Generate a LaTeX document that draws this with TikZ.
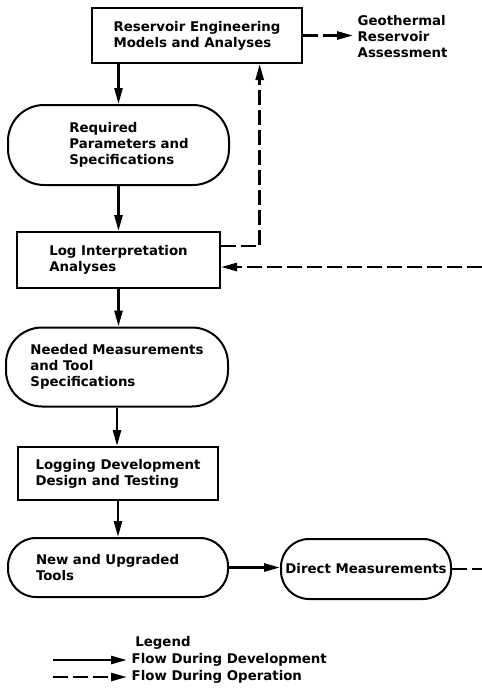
\documentclass[tikz,border=0pt]{standalone}
\usepackage{fontspec}
\setmainfont{DejaVu Sans}
\usetikzlibrary{arrows.meta,positioning}

\begin{document}
\begin{tikzpicture}[
  x=0.75pt, y=-0.75pt,
  font=\fontsize{10}{12}\selectfont\bfseries,
  >={Triangle[length=12pt,width=6pt]},
  box/.style={draw=black, line width=1.5pt, align=left, inner sep=0pt},
  pill/.style={box, rounded corners=21pt},
  arr/.style={->, line width=1.9pt},
  darr/.style={arr, dash pattern=on 11pt off 4pt},
]
\useasboundingbox (0,0) rectangle (482,693);

\node[box, minimum width=157.5pt, minimum height=41.25pt] (reseng) at (197,35.5)
  {Reservoir Engineering\\Models and Analyses};
\node[align=left, anchor=west] (assess) at (353,37)
  {Geothermal\\Reservoir\\Assessment};
\node[pill, rounded corners=27pt, text width=165.75pt, minimum height=60pt] (reqpar) at (118.5,145)
  {\leftskip=46pt Required\\Parameters and\\Specifications\par};
\node[box, minimum width=152.25pt, minimum height=42pt] (loginterp) at (118.5,260)
  {Log Interpretation\\Analyses};
\node[pill, rounded corners=27pt, minimum width=166.5pt, minimum height=59.25pt] (needmeas) at (117,367)
  {Needed Measurements\\and Tool\\Specifications};
\node[box, minimum width=150pt, minimum height=39.75pt] (logdev) at (118,473.5)
  {Logging Development\\Design and Testing};
\node[pill, text width=165pt, minimum height=44.25pt] (newtools) at (118,567.5)
  {\leftskip=21pt New and Upgraded\\Tools\par};
\node[pill, minimum width=127.5pt, minimum height=45pt] (direct) at (366,569)
  {Direct Measurements};

\draw[arr] (reseng.south -| reqpar.north) -- (reqpar.north);
\draw[arr] (reqpar.south) -- (reqpar.south |- loginterp.north);
\draw[arr] (loginterp.south) -- (loginterp.south |- needmeas.north);
\draw[arr] (needmeas.south) -- (needmeas.south |- logdev.north);
\draw[arr] (logdev.south) -- (logdev.south |- newtools.north);
\draw[arr] (newtools.east) -- (newtools.east -| direct.west);

\draw[darr] (reseng.east) -- (reseng.east -| assess.west);
\draw[darr] ([yshift=10.5pt]loginterp.east) -| ([xshift=47pt]reseng.south);
\draw[darr] (direct.east) -- ++(34,0) |- ([yshift=-5.25pt]loginterp.east);

% legend
\node (legend) at (163,643) {Legend};
\node[anchor=west] (devtxt) at (127,660) {Flow During Development};
\node[anchor=west] (optxt) at (127,677) {Flow During Operation};
\coordinate (dev0) at (53,660);
\coordinate (op0) at (53,677);
\draw[arr] (dev0) -- (devtxt.west);
\draw[darr] (op0) -- (optxt.west);
\end{tikzpicture}
\end{document}
